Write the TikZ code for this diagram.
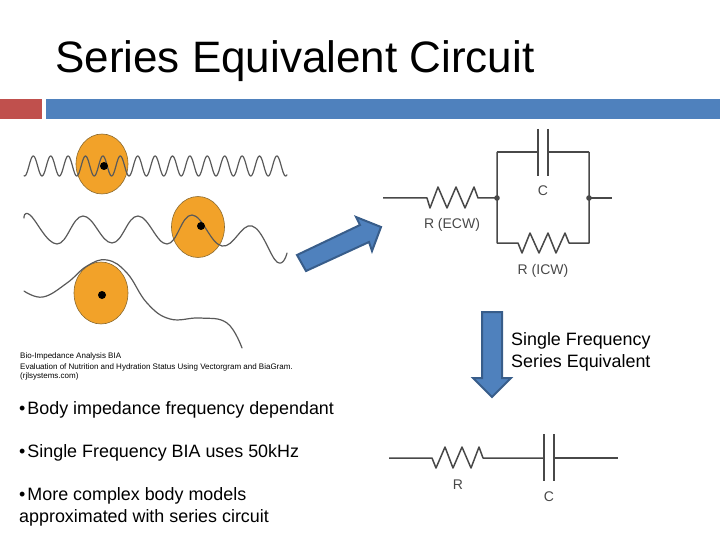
\documentclass[tikz,border=0pt]{standalone}
\usepackage{fontspec}
\setmainfont{Liberation Sans}
\definecolor{barred}{HTML}{C0504D}
\definecolor{barblue}{HTML}{4F81BD}
\definecolor{arrowline}{HTML}{385D8A}
\definecolor{cellfill}{HTML}{F2A229}
\definecolor{cellline}{HTML}{8A6A30}
\definecolor{wire}{HTML}{484848}
\tikzset{
  bodytext/.style={anchor=base west,inner sep=0pt,font=\fontsize{17.9}{18}\selectfont},
  smalltext/.style={anchor=base west,inner sep=0pt,font=\fontsize{8}{8}\selectfont},
  circtext/.style={inner sep=0pt,text=wire,font=\fontsize{14}{14}\selectfont},
  blockarrow/.style={fill=barblue,draw=arrowline,line width=2pt,line join=miter},
  cell/.style={fill=cellfill,draw=cellline,line width=0.6pt},
  wave/.style={draw=black!65,line width=1.2pt,line join=round,line cap=round},
  circ/.style={draw=wire,line width=1.5pt,line join=round},
  plate/.style={draw=wire,line width=1.7pt}
}
\begin{document}
\begin{tikzpicture}[x=1pt,y=-1pt]
\useasboundingbox (0,0) rectangle (720,540);

% title and bars
\node[anchor=base west,inner sep=0pt,font=\fontsize{44}{44}\selectfont] (title) at (55,73) {Series Equivalent Circuit};
\fill[barred] (0,99) rectangle (42,119);
\fill[barblue] (46,99) rectangle (720,119);

% cells
\filldraw[cell] (102,164) ellipse (26 and 30);
\filldraw[cell] (198,227) ellipse (26.5 and 30.5);
\filldraw[cell] (101,293) ellipse (27 and 31);
\draw[wave,domain=24:287,samples=400,smooth] plot (\x,{166-10*cos(20.69*(\x-33.3))});
\draw[wave] plot[smooth,tension=0.7] coordinates {(24,218) (30,215) (57,244) (83,216) (112,243) (138,216) (167,244) (192,215) (222,246) (252,226) (277,262) (287,253)};
\draw[wave] plot[smooth,tension=0.7] coordinates {(24,291) (43,297) (67,283) (87,266) (107,260) (127,273) (147,303) (170,319) (200,318) (227,323) (242,348)};
\foreach \dx/\dy in {104/166,201/226,102/295}
  \fill[black] (\dx,\dy) circle (4);

% caption
\node[smalltext] (capa) at (20,358) {Bio-Impedance Analysis BIA};
\node[smalltext] (capb) at (20,369) {Evaluation of Nutrition and Hydration Status Using Vectorgram and BiaGram.};
\node[smalltext] (capc) at (20,378) {(rjlsystems.com)};

% bullets
\node[bodytext] (bula) at (19,414) {•\kern-3pt{} Body impedance frequency dependant};
\node[bodytext] (bulb) at (19,457) {•\kern-3pt{} Single Frequency BIA uses 50kHz};
\node[bodytext] (bulc) at (19,500) {•\kern-3pt{} More complex body models};
\node[bodytext] (buld) at (19,522) {approximated with series circuit};
\node[bodytext] (sfa) at (511,345) {Single Frequency};
\node[bodytext] (sfb) at (511,367) {Series Equivalent};

% arrows
\draw[blockarrow] (297,255)--(360,225)--(356,217)--(381,227)--(372,251)--(369,242)--(306,271)--cycle;
\draw[blockarrow] (482,312)--(502,312)--(502,378)--(511,378)--(492,397)--(473,378)--(482,378)--cycle;

% parallel circuit
\path (383,198)coordinate(Ea) (497,198)coordinate(Eb) (589,198)coordinate(Ec) (612,198)coordinate(Ed)
      (497,152)coordinate(Ta) (589,152)coordinate(Tb) (497,243)coordinate(Ba) (589,243)coordinate(Bb);
\draw[circ] (Ea)--(427,198)--(430,208)--(438,187)--(447,208)--(456,187)--(465,208)--(474,187)--(478,198)--(Eb);
\draw[circ] (Ec)--(Ed);
\draw[circ] (Ta)--(Ba)--(518,243)--(522,253)--(530,233)--(539,253)--(548,233)--(556,253)--(565,233)--(569,243)--(Bb)--(Tb);
\draw[circ] (Ta)--(538,152) (548,152)--(Tb);
\draw[plate] (538,129)--(538,176);
\draw[plate] (548,129)--(548,176);
\fill[wire] (Eb) circle (2.8);
\fill[wire] (Ec) circle (2.8);
\node[circtext] (lc) at (543,191) {C};
\node[circtext] (lrecw) at (452,225) {R (ECW)};
\node[circtext] (lricw) at (543,271) {R (ICW)};

% series circuit
\path (389,458)coordinate(Sa) (544,458)coordinate(Sb) (554,458)coordinate(Sc) (618,458)coordinate(Sd);
\draw[circ] (Sa)--(432,458)--(436,468)--(445,447)--(453,468)--(462,447)--(471,468)--(479,447)--(483,458)--(Sb);
\draw[circ] (Sc)--(Sd);
\draw[plate] (Sb)+(0,-24)--+(0,23);
\draw[plate] (Sc)+(0,-24)--+(0,23);
\node[circtext] (lr) at (458,485) {R};
\node[circtext] (lcs) at (549,497) {C};
\end{tikzpicture}
\end{document}
